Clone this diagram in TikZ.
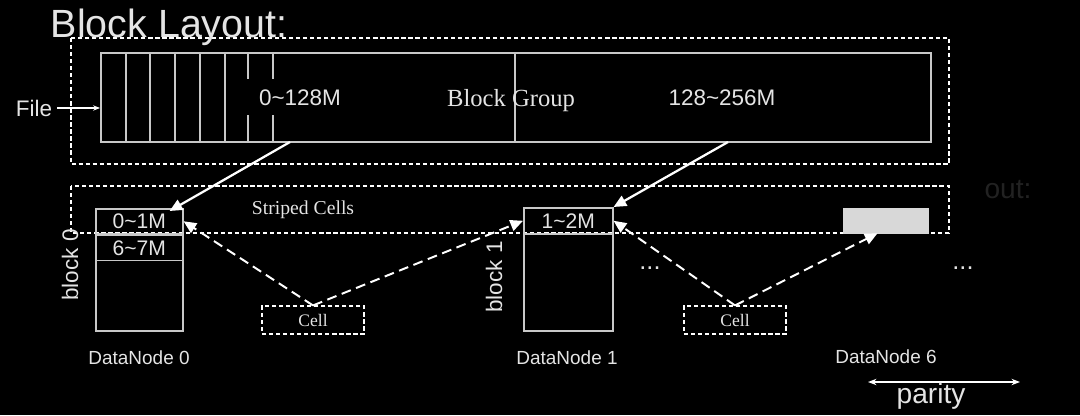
\documentclass[tikz,border=0pt]{standalone}
\usepackage{fontspec}
\setmainfont{Liberation Serif}
\setsansfont{Liberation Sans}
\usetikzlibrary{arrows.meta, positioning, calc}
\definecolor{linegray}{RGB}{200,200,200}
\definecolor{txtgray}{RGB}{228,228,228}
\definecolor{fillgray}{RGB}{216,216,216}
\definecolor{ghostgray}{RGB}{34,34,34}

\begin{document}
\begin{tikzpicture}[
    x=0.025cm, y=-0.025cm,
    every node/.style={text=txtgray, font=\sffamily},
    blockbox/.style={draw=linegray, line width=1.1pt, inner sep=0pt},
    groupbox/.style={draw=white, dash pattern=on 3pt off 2pt, line width=0.8pt},
    cellbox/.style={draw=white, dash pattern=on 3pt off 2pt, line width=0.8pt, minimum width=2.55cm, minimum height=0.7cm, inner sep=0pt, font=\rmfamily\fontsize{12.5}{14}\selectfont},
    maparrow/.style={draw=white, line width=1.6pt, -{Triangle[length=9pt,width=8pt]}},
    cellarrow/.style={draw=white, line width=1.4pt, dash pattern=on 7pt off 4pt, -{Triangle[length=9pt,width=8pt]}}
]
\fill[black] (0,0) rectangle (1080,415);
\useasboundingbox (0,0) rectangle (1080,415);

% file and its block group
\draw[groupbox] (71,38) rectangle (949,164);
\node[anchor=base west, font=\sffamily\fontsize{28}{30}\selectfont] (title) at (46,37) {Block Layout:};
\node[blockbox, minimum width=20.75cm, minimum height=2.225cm] (grp) at (516,97.5) {};
\draw[linegray, line width=1.1pt] (515,53) -- (515,142);
\foreach \x in {126,150,175,200,225}
    \draw[linegray, line width=1.1pt] (\x,53) -- (\x,142);
\foreach \x in {248,273} {
    \draw[linegray, line width=1.1pt] (\x,53) -- (\x,79);
    \draw[linegray, line width=1.1pt] (\x,115) -- (\x,142);
}
\node[font=\sffamily\fontsize{16}{18}\selectfont] (lo) at (300,98) {0\textasciitilde128M};
\node[font=\sffamily\fontsize{16}{18}\selectfont] (hi) at (722,98) {128\textasciitilde256M};
\node[font=\rmfamily\fontsize{17.5}{19}\selectfont] (grplabel) at (511,101) {Block Group};
\node[anchor=east, font=\sffamily\fontsize{16}{18}\selectfont] (file) at (57,108) {File};
\draw[white, line width=1pt, -{Stealth[length=5pt]}] (file.east) -- (grp.west |- file.east);

% striped cells
\draw[groupbox] (71,186) rectangle (949,233);
\node[font=\rmfamily\fontsize{14}{16}\selectfont] (striped) at (303,210) {Striped Cells};

\node[blockbox, minimum width=2.175cm, minimum height=3.05cm, anchor=north west] (blk0) at (95,208) {};
\node[blockbox, minimum width=2.175cm, minimum height=0.625cm, anchor=north west, font=\sffamily\fontsize{15}{17}\selectfont] (c01) at (blk0.north west) {0\textasciitilde1M};
\node[blockbox, minimum width=2.175cm, minimum height=0.625cm, anchor=north, font=\sffamily\fontsize{15}{17}\selectfont] (c67) at (c01.south) {6\textasciitilde7M};
\node[rotate=90, font=\sffamily\fontsize{16}{18}\selectfont] (lb0) at (70,265) {block 0};
\node[font=\sffamily\fontsize{13.5}{15}\selectfont] (dn0) at (139,358) {DataNode 0};

\node[blockbox, minimum width=2.225cm, minimum height=3.075cm, anchor=north west] (blk1) at (523,207) {};
\node[blockbox, minimum width=2.225cm, minimum height=0.65cm, anchor=north west, font=\sffamily\fontsize{15}{17}\selectfont] (c12) at (blk1.north west) {1\textasciitilde2M};
\node[rotate=90, font=\sffamily\fontsize{16}{18}\selectfont] (lb1) at (494,277) {block 1};
\node[font=\sffamily\fontsize{13.5}{15}\selectfont] (dn1) at (567,358) {DataNode 1};

\node[fill=fillgray, draw=fillgray, minimum width=2.125cm, minimum height=0.625cm, inner sep=0pt] (par) at (885.5,220.5) {};
\node[font=\sffamily\fontsize{13.5}{15}\selectfont] (dn6) at (886,357) {DataNode 6};
\node[font=\sffamily\fontsize{18}{20}\selectfont] (dots1) at (650,268) {...};
\node[font=\sffamily\fontsize{18}{20}\selectfont] (dots2) at (963,268) {...};
\node[text=ghostgray, font=\sffamily\fontsize{20}{22}\selectfont] (ghost) at (1008,190) {out:};

\node[cellbox] (cell1) at (313,320) {Cell};
\node[cellbox] (cell2) at (735,320) {Cell};

% block group to cells
\coordinate (src0) at (290,142);
\coordinate (src1) at (728,142);
\draw[maparrow] (src0) -- ($(c01.north east)+(-14,3)$);
\draw[maparrow] (src1) -- (c12.north east);
\draw[cellarrow] (cell1.north) -- (c01.east);
\draw[cellarrow] (cell1.north) -- (c12.west);
\draw[cellarrow] (cell2.north) -- (c12.east);
\draw[cellarrow] (cell2.north) -- ($(par.south)+(-8,0)$);

% parity span
\coordinate (pl) at (868,382);
\coordinate (pr) at (1020,382);
\draw[white, line width=1pt, {Stealth[length=6pt]}-{Stealth[length=6pt]}] (pl) -- (pr);
\node[anchor=base, font=\sffamily\fontsize{20}{22}\selectfont] (parity) at (931,403) {parity};
\end{tikzpicture}
\end{document}
